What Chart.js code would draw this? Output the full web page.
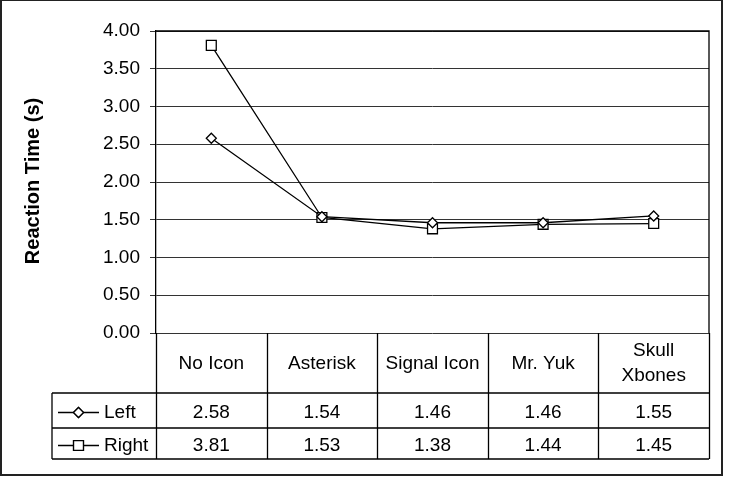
<!DOCTYPE html>
<html>
<head>
<meta charset="utf-8">
<script src="https://cdn.jsdelivr.net/npm/chart.js@4"></script>
<style>
  body { margin: 0; background: #fff; }
  canvas { display: block; }
</style>
</head>
<body>
<canvas id="myChart" width="730" height="478"></canvas>
<script>
var categories = ["No Icon", "Asterisk", "Signal Icon", "Mr. Yuk", ["Skull", "Xbones"]];
var leftValues = [2.58, 1.54, 1.46, 1.46, 1.55];
var rightValues = [3.81, 1.53, 1.38, 1.44, 1.45];
var seriesNames = ["Left", "Right"];
var yTicks = [0, 0.5, 1, 1.5, 2, 2.5, 3, 3.5, 4];

var FONT = '"Liberation Sans", Arial, sans-serif';

// draws the data table under the plot, the plot frame and the outer border
var tablePlugin = {
  id: "dataTable",
  afterDraw: function (chart) {
    var ctx = chart.ctx;
    var area = chart.chartArea;
    var x = chart.scales.x;
    var w = x.getPixelForValue(1) - x.getPixelForValue(0);
    var top = area.bottom;
    var headBottom = top + 60;
    var rowH = [35, 31];
    var legendLeft = 52;

    ctx.save();
    ctx.strokeStyle = "#000";
    ctx.lineWidth = 1.3;

    // plot frame (top and right)
    ctx.beginPath();
    ctx.moveTo(area.left, area.top);
    ctx.lineTo(area.right, area.top);
    ctx.lineTo(area.right, area.bottom);
    ctx.stroke();

    // table lines
    var bottom = headBottom + rowH[0] + rowH[1];
    ctx.beginPath();
    for (var i = 0; i <= categories.length; i++) {
      var cx = Math.round(area.left + i * w) + 0.5;
      ctx.moveTo(cx, top);
      ctx.lineTo(cx, bottom);
    }
    ctx.moveTo(legendLeft, headBottom);
    ctx.lineTo(legendLeft, bottom);
    var yy = headBottom;
    ctx.moveTo(legendLeft, yy); ctx.lineTo(area.right, yy);
    yy += rowH[0];
    ctx.moveTo(legendLeft, yy); ctx.lineTo(area.right, yy);
    yy += rowH[1];
    ctx.moveTo(legendLeft, yy); ctx.lineTo(area.right, yy);
    ctx.stroke();

    // header text
    ctx.fillStyle = "#000";
    ctx.font = "19px " + FONT;
    ctx.textAlign = "center";
    ctx.textBaseline = "middle";
    categories.forEach(function (c, i) {
      var cx = x.getPixelForValue(i);
      var cy = (top + headBottom) / 2;
      if (Array.isArray(c)) {
        var lh = 25;
        c.forEach(function (line, j) {
          ctx.fillText(line, cx, cy - (c.length - 1) * lh / 2 + j * lh);
        });
      } else {
        ctx.fillText(c, cx, cy + 1);
      }
    });

    // value rows
    var rows = [leftValues, rightValues];
    var markers = ["rectRot", "rect"];
    var rTop = headBottom;
    rows.forEach(function (vals, r) {
      var cy = rTop + rowH[r] / 2 + 2;
      ctx.textAlign = "center";
      vals.forEach(function (v, i) {
        ctx.fillText(v.toFixed(2), x.getPixelForValue(i), cy);
      });
      // legend key
      ctx.beginPath();
      ctx.moveTo(58, cy);
      ctx.lineTo(99, cy);
      ctx.stroke();
      Chart.helpers.drawPoint(ctx, {
        pointStyle: markers[r],
        radius: r === 0 ? 5 : 7,
        borderWidth: 1.3
      }, 78.5, cy);
      ctx.fillStyle = "#fff";
      ctx.fill();
      ctx.stroke();
      ctx.fillStyle = "#000";
      ctx.textAlign = "left";
      ctx.fillText(seriesNames[r], 104, cy);
      rTop += rowH[r];
    });

    // axis title
    ctx.save();
    ctx.translate(33, 181);
    ctx.rotate(-Math.PI / 2);
    ctx.font = "bold 20px " + FONT;
    ctx.textAlign = "center";
    ctx.fillText("Reaction Time (s)", 0, 0);
    ctx.restore();

    // outer border
    ctx.strokeStyle = "#222";
    ctx.lineWidth = 2;
    ctx.strokeRect(1, 0, 721, 475);
    ctx.restore();
  }
};

var ctx = document.getElementById("myChart").getContext("2d");
var myChart = new Chart(ctx, {
  type: "line",
  data: {
    labels: categories,
    datasets: [
      {
        label: seriesNames[0],
        data: leftValues,
        borderColor: "#000",
        borderWidth: 1.3,
        pointStyle: "rectRot",
        pointRadius: 5,
        pointBorderWidth: 1.3,
        pointBackgroundColor: "#fff",
        pointBorderColor: "#000",
        tension: 0
      },
      {
        label: seriesNames[1],
        data: rightValues,
        borderColor: "#000",
        borderWidth: 1.3,
        pointStyle: "rect",
        pointRadius: 7,
        pointBorderWidth: 1.3,
        pointBackgroundColor: "#fff",
        pointBorderColor: "#000",
        tension: 0
      }
    ]
  },
  options: {
    responsive: false,
    animation: false,
    layout: { padding: { left: 0, top: 31, right: 21, bottom: 145 } },
    plugins: {
      legend: { display: false },
      tooltip: { enabled: false }
    },
    scales: {
      x: {
        display: false,
        offset: true
      },
      y: {
        min: yTicks[0],
        max: yTicks[yTicks.length - 1],
        afterBuildTicks: function (scale) {
          scale.ticks = yTicks.map(function (v) { return { value: v }; });
        },
        afterFit: function (scale) { scale.width = 156; },
        border: { color: "#000", width: 1.3 },
        grid: { color: "#333", lineWidth: 1, tickLength: 6, drawTicks: true },
        ticks: {
          padding: 10,
          color: "#000",
          font: { family: FONT, size: 19 },
          callback: function (v) { return Number(v).toFixed(2); }
        }
      }
    }
  },
  plugins: [tablePlugin]
});
</script>
</body>
</html>
